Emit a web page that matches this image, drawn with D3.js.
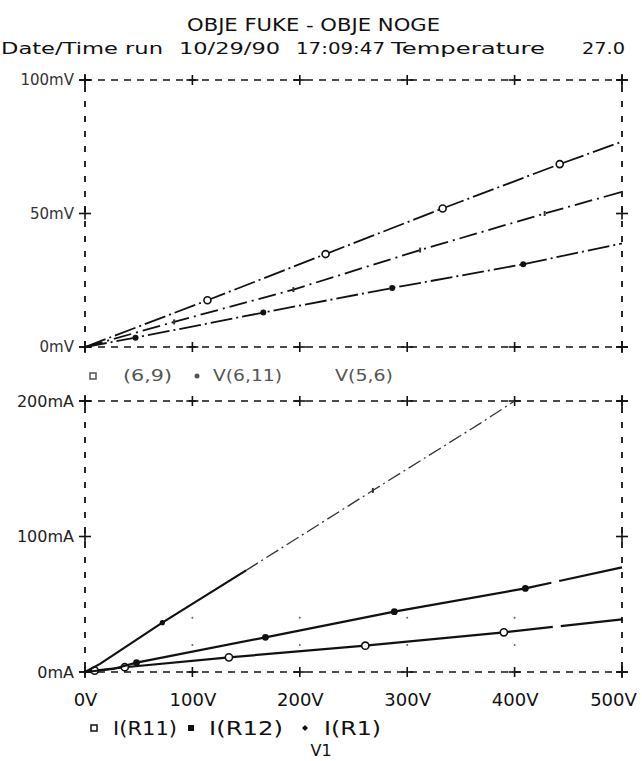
<!DOCTYPE html>
<html>
<head>
<meta charset="utf-8">
<script src="https://cdn.jsdelivr.net/npm/d3@7"></script>
<style>
  html, body { margin: 0; padding: 0; background: #fff; }
  svg { display: block; }
  text { font-family: "DejaVu Sans", sans-serif; fill: #111; }
</style>
</head>
<body>
<svg id="chart" width="642" height="761"></svg>
<script>
// ---- data ----
const titleText = "OBJE FUKE - OBJE NOGE";
const runInfo = ["Date/Time run", "10/29/90", "17:09:47", "Temperature", "27.0"];

const xTicks = [0, 100, 200, 300, 400, 500];
const topTicks = [0, 50, 100];
const botTicks = [0, 100, 200];

// upper panel: node voltages (mV) vs V1 (V)
const v69_V   = [0, 114, 224, 333, 442, 500];
const v69_mV  = [0, 17.5, 34.8, 51.9, 68.5, 76.9];
const v56_V   = [0, 83, 194, 312, 428, 500];
const v56_mV  = [0, 9.4, 21.5, 36.3, 50.0, 58.1];
const v611_V  = [0, 47, 166, 286, 408, 500];
const v611_mV = [0, 3.5, 12.9, 22.1, 31.0, 38.8];

// lower panel: branch currents (mA) vs V1 (V)
const r11_V  = [0, 9, 37, 134, 261, 390, 500];
const r11_mA = [0, 1.0, 3.5, 10.8, 19.4, 29.3, 38.9];
const r12_V  = [0, 26, 48, 168, 288, 410, 500];
const r12_mA = [0, 2.2, 6.9, 25.6, 44.5, 61.7, 77.2];
const r1_V   = [0, 14, 72, 150, 268, 368, 400];
const r1_mA  = [0, 6.0, 36.4, 75.0, 134, 183.5, 200];

// faint plotter grid dots in the lower panel
const gridDotV  = [100, 200, 300, 400];
const gridDotmA = [20, 40];

// ---- layout ----
const svg = d3.select("#chart");
const x = d3.scaleLinear().domain([0, 500]).range([85, 622]);
const yTop = d3.scaleLinear().domain([0, 100]).range([347, 80]);
const yBot = d3.scaleLinear().domain([0, 200]).range([672, 401]);

// header
svg.append("text").attr("x", 187).attr("y", 31).attr("font-size", 17)
  .attr("textLength", 253).attr("lengthAdjust", "spacingAndGlyphs").text(titleText);
const infoSpans = [[1, 162], [179, 101], [296, 89], [391, 154], [582, 43]];
runInfo.forEach((t, i) => {
  svg.append("text").attr("x", infoSpans[i][0]).attr("y", 54).attr("font-size", 16)
    .attr("textLength", infoSpans[i][1]).attr("lengthAdjust", "spacingAndGlyphs").text(t);
});

// dashed frame with "+" ticks for one panel
function frame(y, ticks, unit, labelSize, labelColor) {
  const [y0, y1] = y.range();
  const x0 = x.range()[0], x1 = x.range()[1];
  const g = svg.append("g");
  [y0, y1].forEach(yy => {
    g.append("line").attr("x1", x0).attr("x2", x1).attr("y1", yy).attr("y2", yy)
      .attr("stroke", "#111").attr("stroke-width", 1.6).attr("stroke-dasharray", "7,6");
  });
  [x0, x1].forEach(xx => {
    g.append("line").attr("x1", xx).attr("x2", xx).attr("y1", y1 + 6).attr("y2", y0 - 4)
      .attr("stroke", "#111").attr("stroke-width", 1.8).attr("stroke-dasharray", "6,9");
  });
  xTicks.forEach(v => {
    [y0, y1].forEach(yy => {
      g.append("line").attr("x1", x(v)).attr("x2", x(v)).attr("y1", yy - 5).attr("y2", yy + 5)
        .attr("stroke", "#111").attr("stroke-width", 1.6);
      g.append("line").attr("x1", x(v) - 6).attr("x2", x(v) + 6).attr("y1", yy).attr("y2", yy)
        .attr("stroke", "#111").attr("stroke-width", 1.6);
    });
  });
  ticks.forEach(v => {
    [x0, x1].forEach(xx => {
      g.append("line").attr("x1", xx - 6).attr("x2", xx + 6).attr("y1", y(v)).attr("y2", y(v))
        .attr("stroke", "#111").attr("stroke-width", 1.6);
      g.append("line").attr("x1", xx).attr("x2", xx).attr("y1", y(v) - 6).attr("y2", y(v) + 6)
        .attr("stroke", "#111").attr("stroke-width", 1.6);
    });
  });
  const ax = svg.append("g").attr("transform", `translate(${x0},0)`)
    .call(d3.axisLeft(y).tickValues(ticks).tickSize(0).tickPadding(11)
      .tickFormat(d => d + unit));
  ax.select(".domain").remove();
  ax.selectAll("text").attr("font-size", labelSize).attr("font-family", "DejaVu Sans, sans-serif")
    .style("fill", labelColor);
}
frame(yTop, topTicks, "mV", 15, "#333");
frame(yBot, botTicks, "mA", 16, "#222");

// grid dots
gridDotV.forEach(v => gridDotmA.forEach(m => {
  svg.append("circle").attr("cx", x(v)).attr("cy", yBot(m)).attr("r", 1).attr("fill", "#666");
}));

// x axis labels
const xa = svg.append("g").attr("transform", `translate(0,${yBot.range()[0]})`)
  .call(d3.axisBottom(x).tickValues(xTicks).tickSize(0).tickPadding(21).tickFormat(d => d + "V"));
xa.select(".domain").remove();
xa.selectAll("text").attr("font-size", 18).attr("font-family", "DejaVu Sans, sans-serif").style("fill", "#111");
xa.selectAll(".tick").filter(d => d === 500).select("text").attr("x", -9);

// traces
function trace(vs, ys, y, opts) {
  const pts = vs.map((v, i) => [x(v), y(ys[i])]);
  svg.append("path").attr("d", d3.line()(pts)).attr("fill", "none")
    .attr("stroke", opts.color || "#111").attr("stroke-width", opts.width || 2)
    .attr("stroke-dasharray", opts.dash || null);
  return pts;
}
function markers(pts, shape, size, idx) {
  idx.forEach(i => {
    const [px, py] = pts[i];
    if (shape === "open") {
      svg.append("circle").attr("cx", px).attr("cy", py).attr("r", size)
        .attr("fill", "#fff").attr("stroke", "#111").attr("stroke-width", 1.6);
    } else if (shape === "filled") {
      svg.append("circle").attr("cx", px).attr("cy", py).attr("r", size).attr("fill", "#111");
    } else {
      svg.append("rect").attr("x", px - 1).attr("y", py - 2.5).attr("width", 2).attr("height", 5)
        .attr("fill", "#333");
    }
  });
}

// upper panel
const tdash = "22,4,2,4";
let p = trace(v69_V, v69_mV, yTop, { dash: tdash, width: 1.8 });
markers(p, "open", 3.5, [1, 2, 3, 4]);
p = trace(v56_V, v56_mV, yTop, { dash: "18,5,2,5", width: 1.8 });
markers(p, "tick", 3, [1, 2, 3, 4]);
p = trace(v611_V, v611_mV, yTop, { dash: tdash, width: 1.8 });
markers(p, "filled", 3, [1, 2, 3, 4]);

// lower panel (short breaks near the right end, as plotted)
p = trace(r11_V, r11_mA, yBot, { width: 2.2, dash: "470,8,400" });
markers(p, "open", 3.6, [1, 2, 3, 4, 5]);
p = trace(r12_V, r12_mA, yBot, { width: 2.2, dash: "475,8,400" });
markers(p, "filled", 3.4, [2, 3, 4, 5]);
// steep current: solid near the origin, lighter dash-dot above
const split = 4;
trace(r1_V.slice(0, split), r1_mA.slice(0, split), yBot, { width: 2.2 });
p = trace(r1_V.slice(split - 1), r1_mA.slice(split - 1), yBot, { width: 1.3, dash: "14,4,2,4", color: "#333" });
markers([[x(r1_V[2]), yBot(r1_mA[2])]], "filled", 2.6, [0]);
markers(p, "tick", 2, [1]);

// legends
function legendItem(mx, my, shape, label, tx, size, color, len) {
  if (shape === "openSq") {
    svg.append("rect").attr("x", mx - 3).attr("y", my - 3).attr("width", 6).attr("height", 6)
      .attr("fill", "none").attr("stroke", color).attr("stroke-width", 1.5);
  } else if (shape === "filledSq") {
    svg.append("rect").attr("x", mx - 3).attr("y", my - 3).attr("width", 6).attr("height", 6).attr("fill", color);
  } else if (shape === "dot") {
    svg.append("circle").attr("cx", mx).attr("cy", my).attr("r", 2.5).attr("fill", color);
  } else if (shape === "diamond") {
    svg.append("path").attr("d", `M${mx},${my - 3}L${mx + 3},${my}L${mx},${my + 3}L${mx - 3},${my}Z`).attr("fill", color);
  }
  svg.append("text").attr("x", tx).attr("y", my + size * 0.36).attr("font-size", size)
    .attr("textLength", len).attr("lengthAdjust", "spacingAndGlyphs").style("fill", color).text(label);
}
legendItem(93, 376, "openSq", "(6,9)", 123, 15, "#555", 49);
legendItem(197, 376, "dot", "V(6,11)", 213, 15, "#555", 69);
legendItem(318, 376, "none", "V(5,6)", 335, 15, "#555", 58);

legendItem(94, 728, "openSq", "I(R11)", 113, 19, "#111", 64);
legendItem(191, 728, "filledSq", "I(R12)", 209, 19, "#111", 74);
legendItem(305, 728, "diamond", "I(R1)", 324, 19, "#111", 57);

svg.append("text").attr("x", 321).attr("y", 756).attr("font-size", 16).attr("text-anchor", "middle").text("V1");
</script>
</body>
</html>
